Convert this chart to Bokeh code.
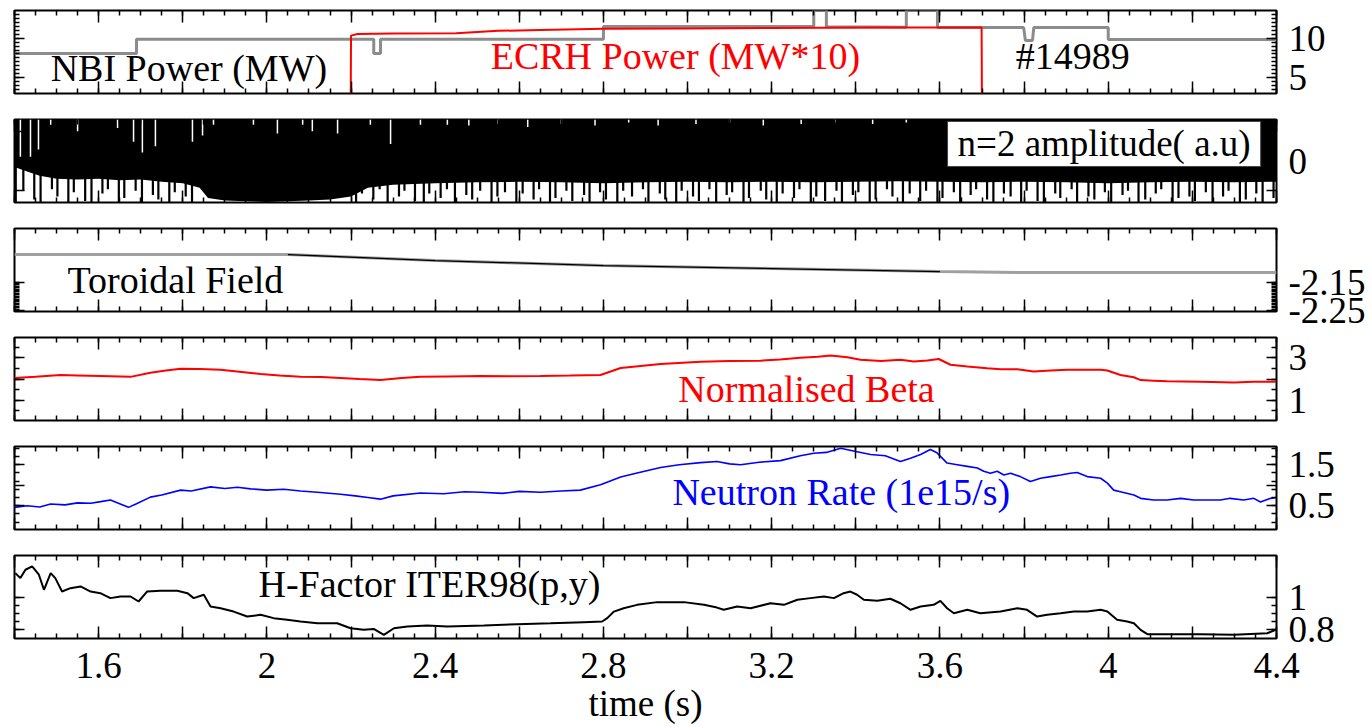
import numpy as np
from bokeh.plotting import figure
from bokeh.models import Range1d, LinearAxis, FixedTicker, Label
from bokeh.layouts import column
from bokeh.embed import file_html
from bokeh.resources import INLINE

FONT = "Liberation Serif"
FS = "37px"       # tick labels / axis label
LFS = "38px"      # in-panel annotations

# ---------------- x axis ----------------
x_major = [1.4, 1.6, 1.8, 2.0, 2.2, 2.4, 2.6, 2.8, 3.0, 3.2, 3.4, 3.6, 3.8, 4.0, 4.2, 4.4]
x_labels = {1.4: "", 1.6: "1.6", 1.8: "", 2.0: "2", 2.2: "", 2.4: "2.4", 2.6: "", 2.8: "2.8",
            3.0: "", 3.2: "3.2", 3.4: "", 3.6: "3.6", 3.8: "", 4.0: "4", 4.2: "", 4.4: "4.4"}
x_minor = [round(1.4 + 0.05 * i, 2) for i in range(61)]

# ---------------- panel 1 : NBI / ECRH ----------------
nbi_t = [1.40, 1.69, 1.69, 2.254, 2.254, 2.270, 2.270, 2.80, 2.80, 3.30, 3.30, 3.33, 3.33,
         3.52, 3.52, 3.594, 3.594, 3.799, 3.803, 3.820, 3.823, 4.00, 4.00, 4.40]
nbi_v = [8.06, 8.06, 9.85, 9.85, 8.06, 8.06, 9.85, 9.85, 11.45, 11.45, 13.6, 13.6, 11.4,
         11.35, 13.6, 13.6, 11.3, 11.3, 9.7, 9.7, 11.3, 11.3, 9.8, 9.8]
ecrh_t = [1.40, 2.199, 2.200, 2.215, 2.30, 2.45, 2.55, 2.65, 2.80, 3.00, 3.20, 3.45, 3.699, 3.700, 4.40]
ecrh_v = [0.0, 0.0, 10.3, 10.5, 10.55, 10.6, 10.9, 11.0, 11.15, 11.2, 11.25, 11.3, 11.3, 0.0, 0.0]

# ---------------- panel 2 : n=2 amplitude ----------------
env_t = [1.40, 1.43, 1.46, 1.50, 1.55, 1.60, 1.65, 1.70, 1.75, 1.80, 1.84, 1.86, 1.90, 1.95, 2.00,
         2.05, 2.10, 2.15, 2.20, 2.24, 2.30, 2.40, 2.50, 2.60, 2.70, 2.80, 2.90, 3.00, 3.10, 3.20,
         3.30, 3.40, 3.50, 3.60, 3.70, 3.80, 3.90, 4.00, 4.10, 4.20, 4.30, 4.40]
env_low = [-0.2, -0.35, -0.5, -0.6, -0.62, -0.6, -0.65, -0.62, -0.7, -0.75, -0.9, -1.25, -1.33,
           -1.36, -1.38, -1.36, -1.33, -1.3, -1.2, -0.9, -0.8, -0.75, -0.72, -0.7, -0.72, -0.75,
           -0.72, -0.7, -0.72, -0.7, -0.72, -0.7, -0.68, -0.7, -0.72, -0.7, -0.72, -0.75, -0.72,
           -0.7, -0.72, -0.7]
spike_t = [1.403, 1.421, 1.447, 1.462, 1.489, 1.502, 1.528, 1.541, 1.568, 1.583, 1.609, 1.622,
           1.648, 1.661, 1.688, 1.703, 1.729, 1.742, 1.768, 1.781, 1.807, 1.822,
           2.212, 2.226, 2.253, 2.268, 2.287, 2.314, 2.327, 2.352, 2.373, 2.386,
           2.413, 2.428, 2.447, 2.474, 2.488, 2.507, 2.534, 2.548, 2.566, 2.593,
           2.608, 2.634, 2.647, 2.673, 2.686, 2.712, 2.726, 2.754, 2.767, 2.792,
           2.806, 2.833, 2.847, 2.868, 2.894, 2.907, 2.934, 2.947, 2.973, 2.986,
           3.013, 3.027, 3.052, 3.068, 3.093, 3.106, 3.133, 3.146, 3.174, 3.187,
           3.212, 3.226, 3.253, 3.266, 3.293, 3.306, 3.327, 3.354, 3.367, 3.393,
           3.406, 3.433, 3.447, 3.474, 3.487, 3.512, 3.528, 3.553, 3.567, 3.594,
           3.606, 3.633, 3.648, 3.673, 3.686, 3.712, 3.727, 3.752, 3.768, 3.793,
           3.806, 3.832, 3.847, 3.874, 3.886, 3.913, 3.926, 3.953, 3.967, 3.992,
           4.007, 4.034, 4.047, 4.072, 4.088, 4.113, 4.126, 4.153, 4.167, 4.193,
           4.206, 4.232, 4.248, 4.273, 4.286, 4.313, 4.327, 4.352, 4.367, 4.393]
spike_low = [-1.4, -1.0, -1.3, -1.4, -0.95, -1.2, -1.4, -1.05, -1.35, -1.4, -1.1, -0.95,
             -1.4, -1.25, -1.0, -1.4, -1.15, -1.3, -1.4, -1.05, -1.2, -1.4,
             -1.4, -1.1, -1.3, -0.95, -1.4, -1.2, -1.0, -1.35, -1.4, -1.1,
             -1.25, -0.95, -1.4, -1.15, -1.3, -1.0, -1.4, -1.2, -1.05, -1.4,
             -1.1, -1.3, -0.95, -1.4, -1.25, -1.0, -1.35, -1.15, -1.4, -1.05,
             -1.3, -1.4, -1.0, -1.2, -0.95, -1.4, -1.1, -1.3, -1.4, -1.0,
             -1.2, -1.35, -0.95, -1.4, -1.15, -1.05, -1.4, -1.25, -1.0, -1.3,
             -1.4, -1.1, -1.25, -0.95, -1.4, -1.2, -1.35, -1.0, -1.4, -1.15,
             -1.05, -1.4, -1.3, -0.95, -1.2, -1.4, -1.1, -1.35, -1.0, -1.4,
             -1.25, -1.05, -1.4, -1.15, -0.95, -1.3, -1.4, -1.1, -1.2, -1.4,
             -1.0, -1.35, -1.4, -1.1, -1.25, -0.95, -1.4, -1.2, -1.3, -1.05,
             -1.4, -1.15, -1.0, -1.4, -1.3, -1.1, -0.95, -1.4, -1.25, -1.2,
             -1.35, -1.05, -1.4, -1.2, -1.0, -1.4, -1.3, -1.1, -1.4, -1.25]
gap_t = [1.414, 1.438, 1.457, 1.486, 1.550, 1.645, 1.683, 1.704, 1.735, 1.823, 1.847, 1.873,
         1.968, 2.025, 2.085, 2.108, 2.168, 2.246, 2.294, 2.365, 2.429, 2.48, 2.55, 2.62, 2.70,
         2.78, 2.86, 2.93, 3.02, 3.10, 3.18, 3.27, 3.35, 3.44, 3.52]
gap_v = [0.14, 0.14, 0.39, 1.22, 1.0, 1.11, 0.65, 0.29, 0.5, 0.65, 0.86, 1.22, 1.22, 0.93,
         1.22, 1.0, 0.93, 1.22, 0.57, 1.22, 1.22, 1.2, 1.25, 1.15, 1.25, 1.2, 1.3, 1.2, 1.25,
         1.3, 1.2, 1.25, 1.3, 1.25, 1.3]

# ---------------- panel 3 : toroidal field ----------------
tor_t = [1.40, 2.05, 2.40, 2.80, 3.20, 3.60, 3.80, 4.40]
tor_v = [-2.0535, -2.0535, -2.0746, -2.0921, -2.1026, -2.1132, -2.1167, -2.1167]

# ---------------- panel 4 : normalised beta ----------------
beta_t = [1.400, 1.45, 1.509, 1.55, 1.604, 1.676, 1.723, 1.76, 1.795, 1.84, 1.890, 1.94, 1.985,
          2.03, 2.080, 2.13, 2.175, 2.22, 2.270, 2.32, 2.365, 2.43, 2.508, 2.58, 2.650, 2.72,
          2.793, 2.841, 2.936, 3.031, 3.10, 3.173, 3.22, 3.268, 3.31, 3.340, 3.38, 3.411, 3.46,
          3.506, 3.538, 3.570, 3.597, 3.625, 3.665, 3.712, 3.744, 3.784, 3.823, 3.863, 3.903,
          3.942, 3.982, 3.998, 4.029, 4.061, 4.077, 4.108, 4.140, 4.219, 4.299, 4.346, 4.386, 4.400]
beta_v = [2.05, 2.10, 2.19, 2.17, 2.14, 2.10, 2.29, 2.40, 2.48, 2.47, 2.43, 2.33, 2.24, 2.17,
          2.10, 2.09, 2.05, 2.00, 1.95, 2.05, 2.10, 2.12, 2.14, 2.13, 2.14, 2.16, 2.19, 2.52,
          2.71, 2.81, 2.84, 2.86, 2.92, 3.00, 3.05, 3.10, 3.02, 2.90, 2.85, 2.90, 2.82, 2.87,
          2.94, 2.67, 2.59, 2.51, 2.46, 2.46, 2.35, 2.40, 2.43, 2.43, 2.43, 2.40, 2.19, 2.08,
          1.95, 1.92, 1.89, 1.87, 1.84, 1.87, 1.87, 1.87]

# ---------------- panel 5 : neutron rate ----------------
neut_t = [1.400, 1.43, 1.46, 1.486, 1.52, 1.55, 1.581, 1.605, 1.628, 1.65, 1.671, 1.69, 1.723,
          1.75, 1.795, 1.82, 1.866, 1.90, 1.93, 1.961, 2.00, 2.04, 2.080, 2.12, 2.175, 2.21,
          2.24, 2.270, 2.30, 2.365, 2.42, 2.47, 2.508, 2.56, 2.60, 2.650, 2.70, 2.745, 2.793,
          2.841, 2.88, 2.936, 2.98, 3.031, 3.07, 3.10, 3.126, 3.17, 3.221, 3.268, 3.30, 3.33,
          3.364, 3.40, 3.435, 3.47, 3.506, 3.530, 3.554, 3.577, 3.593, 3.617, 3.641, 3.665,
          3.689, 3.704, 3.720, 3.736, 3.752, 3.768, 3.791, 3.815, 3.839, 3.863, 3.887, 3.910,
          3.926, 3.950, 3.982, 3.998, 4.013, 4.029, 4.061, 4.077, 4.108, 4.140, 4.172, 4.203,
          4.235, 4.267, 4.290, 4.322, 4.346, 4.362, 4.386, 4.400]
neut_v = [0.46, 0.50, 0.47, 0.54, 0.52, 0.57, 0.56, 0.60, 0.64, 0.55, 0.46, 0.55, 0.71, 0.76,
          0.88, 0.86, 0.96, 0.92, 0.95, 0.91, 0.88, 0.90, 0.86, 0.83, 0.78, 0.74, 0.70, 0.66,
          0.74, 0.81, 0.79, 0.84, 0.83, 0.80, 0.85, 0.83, 0.86, 0.88, 1.01, 1.20, 1.30, 1.43,
          1.50, 1.55, 1.58, 1.52, 1.50, 1.56, 1.60, 1.72, 1.78, 1.80, 1.90, 1.82, 1.75, 1.72,
          1.58, 1.66, 1.75, 1.87, 1.79, 1.54, 1.50, 1.46, 1.42, 1.34, 1.29, 1.34, 1.25, 1.29,
          1.21, 1.09, 1.17, 1.21, 1.25, 1.29, 1.31, 1.21, 1.17, 1.05, 0.88, 0.84, 0.76, 0.68,
          0.64, 0.64, 0.68, 0.64, 0.64, 0.64, 0.68, 0.64, 0.68, 0.59, 0.68, 0.70]

# ---------------- panel 6 : H-factor ----------------
hf_t = [1.402, 1.414, 1.426, 1.442, 1.458, 1.470, 1.486, 1.497, 1.513, 1.533, 1.557, 1.581,
        1.604, 1.628, 1.652, 1.676, 1.695, 1.715, 1.747, 1.787, 1.811, 1.826, 1.850, 1.866,
        1.890, 1.921, 1.953, 1.985, 2.016, 2.048, 2.080, 2.120, 2.167, 2.199, 2.230, 2.254,
        2.278, 2.302, 2.334, 2.381, 2.429, 2.516, 2.595, 2.674, 2.753, 2.797, 2.809, 2.825,
        2.848, 2.880, 2.928, 2.991, 3.039, 3.070, 3.086, 3.118, 3.150, 3.197, 3.229, 3.261,
        3.292, 3.324, 3.348, 3.371, 3.387, 3.403, 3.419, 3.451, 3.482, 3.506, 3.530, 3.554,
        3.585, 3.601, 3.617, 3.633, 3.665, 3.696, 3.744, 3.784, 3.807, 3.831, 3.855, 3.887,
        3.918, 3.950, 3.982, 3.998, 4.021, 4.045, 4.061, 4.077, 4.093, 4.140, 4.219, 4.299,
        4.378, 4.398]
hf_v = [1.149, 1.118, 1.170, 1.191, 1.139, 1.045, 1.149, 1.118, 1.034, 1.055, 1.066, 1.034,
        1.024, 0.993, 1.003, 1.003, 0.972, 1.034, 1.039, 1.039, 1.024, 0.993, 1.014, 0.941,
        0.930, 0.909, 0.878, 0.889, 0.868, 0.858, 0.847, 0.836, 0.836, 0.805, 0.795, 0.801,
        0.764, 0.805, 0.816, 0.822, 0.816, 0.822, 0.830, 0.836, 0.843, 0.847, 0.868, 0.909,
        0.930, 0.951, 0.968, 0.968, 0.951, 0.934, 0.920, 0.941, 0.930, 0.961, 0.951, 0.983,
        0.993, 1.003, 0.993, 1.024, 1.034, 1.014, 0.983, 0.976, 0.989, 0.961, 0.920, 0.941,
        0.951, 0.976, 0.930, 0.899, 0.920, 0.899, 0.909, 0.930, 0.920, 0.878, 0.889, 0.899,
        0.909, 0.909, 0.920, 0.909, 0.858, 0.847, 0.836, 0.795, 0.768, 0.768, 0.768, 0.764,
        0.774, 0.795]

# ---------------- helpers ----------------
xr = Range1d(1.4, 4.4)


def style_axis(ax, major, minor, overrides, show_labels, long=12, short=5, standoff=10):
    ax.ticker = FixedTicker(ticks=major, minor_ticks=minor)
    ax.axis_line_color = None
    ax.major_tick_in = long
    ax.major_tick_out = 0
    ax.minor_tick_in = short
    ax.minor_tick_out = 0
    ax.major_tick_line_color = "black"
    ax.major_tick_line_width = 1.5
    ax.minor_tick_line_color = "black"
    ax.minor_tick_line_width = 1.5
    if show_labels:
        ax.major_label_overrides = overrides
        ax.major_label_text_font = FONT
        ax.major_label_text_font_size = FS
        ax.major_label_text_color = "black"
        ax.major_label_standoff = standoff
    else:
        ax.major_label_text_font_size = "0px"
        ax.major_label_text_color = None
        ax.major_label_standoff = 0


def panel(yr, y_major, y_minor, y_over, top, bottom, last=False):
    p = figure(frame_width=1262, frame_height=83, x_range=xr, y_range=Range1d(*yr),
               y_axis_location="right", output_backend="svg", toolbar_location=None,
               min_border_left=14, min_border_right=96, min_border_top=top,
               min_border_bottom=bottom)
    p.xgrid.visible = False
    p.ygrid.visible = False
    p.outline_line_color = "black"
    p.outline_line_width = 2
    p.background_fill_color = "white"
    p.border_fill_color = "white"
    below = p.below[0]
    style_axis(below, x_major, x_minor, x_labels, last, standoff=14)
    above = LinearAxis()
    style_axis(above, x_major, x_minor, x_labels, False)
    p.add_layout(above, "above")
    style_axis(p.right[0], y_major, y_minor, y_over, True, long=10, short=5, standoff=12)
    left = LinearAxis()
    style_axis(left, y_major, y_minor, y_over, False, long=10, short=5)
    p.add_layout(left, "left")
    if last:
        below.axis_label = "time (s)"
        below.axis_label_text_font = FONT
        below.axis_label_text_font_size = FS
        below.axis_label_text_font_style = "normal"
        below.axis_label_text_color = "black"
        below.axis_label_standoff = 2
    return p


def label(p, x, y, text, color="black", **kw):
    p.add_layout(Label(x=x, y=y, text=text, text_font=FONT, text_font_size=LFS,
                       text_color=color, **kw))


# Panel 1
p1 = panel((3.06, 13.44), [5, 10], [round(3.5 + 0.5 * i, 1) for i in range(20)],
           {5: "5", 10: "10"}, 10, 13)
p1.line(nbi_t, nbi_v, line_color="#8c8c8c", line_width=3)
p1.line(ecrh_t, ecrh_v, line_color="#ff0000", line_width=2)
label(p1, 1.486, 3.65, "NBI Power (MW)")
label(p1, 2.532, 5.1, "ECRH Power (MW*10)", color="#ff0000")
label(p1, 3.780, 5.1, "#14989")

# Panel 2
p2 = panel((-1.4, 1.4), [-1, 0, 1], [], {-1: "", 0: "0", 1: ""}, 13, 13)
p2.varea(x=env_t, y1=env_low, y2=1.4, fill_color="black")
p2.segment(x0=spike_t, y0=0, x1=spike_t, y1=spike_low, line_color="black", line_width=2.2)
p2.segment(x0=gap_t, y0=1.4, x1=gap_t, y1=gap_v, line_color="white", line_width=1.5)
p2.add_layout(Label(x=3.618, y=0.574, text="n=2 amplitude( a.u)", text_font=FONT,
                    text_font_size=FS, text_color="black", text_baseline="middle",
                    background_fill_color="white", border_line_color="#444444",
                    border_line_width=1, padding=(10, 2)))

# Panel 3
p3 = panel((-2.2535, -1.962), [-2.25, -2.15],
           [round(-2.25 + 0.005 * i, 3) for i in range(21)],
           {-2.25: "-2.25", -2.15: "-2.15"}, 13, 20)
p3.line(tor_t, tor_v, line_color="#a0a0a0", line_width=3)
p3.line(tor_t[1:6], tor_v[1:6], line_color="black", line_width=1.3)
label(p3, 1.526, -2.2174, "Toroidal Field")

# Panel 4
p4 = panel((0.05, 3.95), [1, 2, 3], [0.5, 1.0, 1.5, 2.0, 2.5, 3.0, 3.5],
           {1: "1", 2: "", 3: "3"}, 6, 13)
p4.line(beta_t, beta_v, line_color="#ff0000", line_width=2)
label(p4, 2.978, 0.524, "Normalised Beta", color="#ff0000")

# Panel 5
p5 = panel((-0.08, 1.944), [0.5, 1.0, 1.5], [round(0.1 + 0.2 * i, 1) for i in range(10)],
           {0.5: "0.5", 1.0: "", 1.5: "1.5"}, 13, 13)
p5.line(neut_t, neut_v, line_color="#0000ff", line_width=1.6)
label(p5, 2.964, 0.315, "Neutron Rate (1e15/s)", color="#0000ff")

# Panel 6
p6 = panel((0.741, 1.259), [0.8, 1.0], [0.8, 0.85, 0.9, 0.95, 1.0],
           {0.8: "0.8", 1.0: "1"}, 13, 89, last=True)
p6.line(hf_t, hf_v, line_color="black", line_width=2)
label(p6, 1.980, 0.951, "H-Factor ITER98(p,y)")

layout = column(p1, p2, p3, p4, p5, p6, spacing=0)
open("out.html", "w").write(file_html(layout, INLINE))
